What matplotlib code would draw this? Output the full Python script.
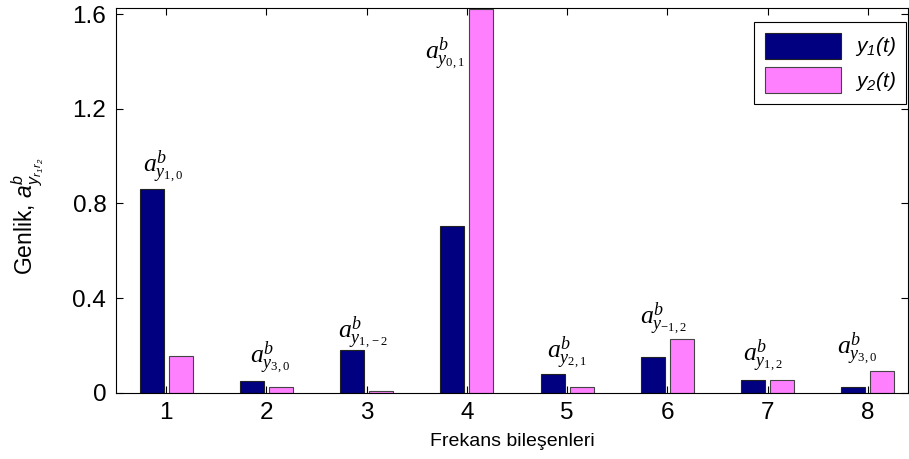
import matplotlib
matplotlib.use('Agg')
import matplotlib.pyplot as plt
import numpy as np

# data
components = [1, 2, 3, 4, 5, 6, 7, 8]
y1_amp = [0.86, 0.048, 0.179, 0.704, 0.079, 0.150, 0.054, 0.023]
y2_amp = [0.155, 0.024, 0.006, 1.62, 0.023, 0.227, 0.053, 0.093]
ann_labels = [r'$a^{b}_{y_{1,0}}$', r'$a^{b}_{y_{3,0}}$', r'$a^{b}_{y_{1,-2}}$', r'$a^{b}_{y_{0,1}}$',
              r'$a^{b}_{y_{2,1}}$', r'$a^{b}_{y_{-1,2}}$', r'$a^{b}_{y_{1,2}}$', r'$a^{b}_{y_{3,0}}$']
ann_x = [0.768, 1.834, 2.717, 3.587, 4.802, 5.731, 6.751, 7.690]
ann_y = [0.955, 0.145, 0.252, 1.43, 0.167, 0.31, 0.153, 0.183]
ytick_vals = [0, 0.4, 0.8, 1.2, 1.6]
ytick_labels = ['0', '0.4', '0.8', '1.2', '1.6']

plt.rcParams['font.family'] = ['Liberation Sans', 'DejaVu Sans']
plt.rcParams['mathtext.fontset'] = 'custom'
plt.rcParams['mathtext.rm'] = 'Liberation Serif'
plt.rcParams['mathtext.it'] = 'Liberation Serif:italic'
plt.rcParams['mathtext.sf'] = 'Liberation Sans:italic'

fig = plt.figure(figsize=(9.09, 4.59), dpi=100)
ax = fig.add_axes([0.1276, 0.1444, 0.8713, 0.8375])

x = np.array(components)
w = 0.24
ax.bar(x - 0.145, y1_amp, w, color='#000080', edgecolor='#222222', linewidth=0.8, label=r'$\mathsf{y_1(t)}$')
ax.bar(x + 0.145, y2_amp, w, color='#ff80ff', edgecolor='#444444', linewidth=0.8, label=r'$\mathsf{y_2(t)}$')

for lab, xa, ya in zip(ann_labels, ann_x, ann_y):
    ax.text(xa, ya, lab, fontsize=18.5, ha='left', va='center')

ax.set_xlim(0.5, 8.4)
ax.set_ylim(0, 1.625)
ax.set_xticks(components)
ax.set_yticks(ytick_vals)
ax.set_yticklabels(ytick_labels)
ax.tick_params(direction='in', top=True, right=True, labelsize=17.5, length=5, width=0.8)
ax.tick_params(axis='y', pad=7)
ax.tick_params(axis='x', pad=7)
ax.set_xlabel('Frekans bileşenleri', fontsize=14, labelpad=6)
ax.set_ylabel(r'Genlik, $\mathsf{a^{b}_{y_{r_1 r_2}}}$', fontsize=16.5)
ax.yaxis.set_label_coords(-0.088, 0.46)

leg = ax.legend(loc='upper right', bbox_to_anchor=(0.9975, 0.964), borderaxespad=0, fontsize=15,
                fancybox=False, edgecolor='black', framealpha=1, handlelength=3.65, handleheight=1.55,
                borderpad=0.5, labelspacing=0.4, handletextpad=0.67)
leg.get_frame().set_linewidth(0.8)

fig.savefig('out.png', dpi=100)
